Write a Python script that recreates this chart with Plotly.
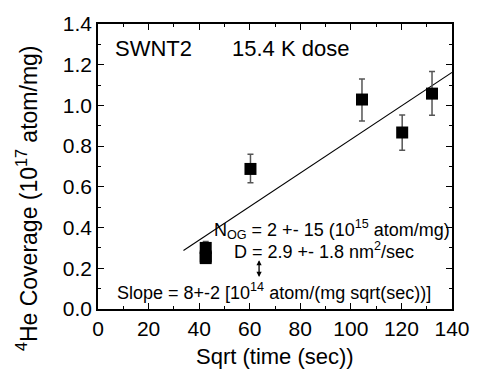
import plotly.graph_objects as go

# data
sqrt_time = [42.6, 42.6, 42.6, 60.3, 104.4, 120.3, 132.1]
coverage = [0.300, 0.258, 0.250, 0.688, 1.029, 0.867, 1.058]
err_plus = [0.032, 0.008, 0.008, 0.072, 0.101, 0.086, 0.109]
err_minus = [0.032, 0.008, 0.008, 0.068, 0.106, 0.087, 0.106]
fit_x = [33.8, 140.0]
fit_y = [0.287, 1.162]

FONT = "Liberation Sans, Arial, sans-serif"

fig = go.Figure()
fig.add_trace(go.Scatter(
    x=fit_x, y=fit_y, mode="lines",
    line=dict(color="black", width=1.1), showlegend=False, hoverinfo="skip"))
fig.add_trace(go.Scatter(
    x=sqrt_time, y=coverage, mode="markers",
    marker=dict(symbol="square", size=12, color="black"),
    error_y=dict(type="data", symmetric=False, array=err_plus, arrayminus=err_minus,
                 color="#555555", thickness=1.5, width=3),
    showlegend=False))

axis_common = dict(
    showline=True, linecolor="black", linewidth=1.5, mirror="allticks",
    ticks="inside", ticklen=6, tickwidth=1.3, tickcolor="black",
    showgrid=False, zeroline=False,
    tickfont=dict(family=FONT, size=21, color="black"),
)
fig.update_xaxes(range=[0, 140], dtick=20, tick0=0,
                 minor=dict(ticks="inside", ticklen=3, dtick=10, tickcolor="black", tickwidth=1.3, showgrid=False),
                 **axis_common)
fig.update_yaxes(range=[0, 1.4], dtick=0.2, tick0=0, tickformat=".1f",
                 minor=dict(ticks="inside", ticklen=3, dtick=0.1, tickcolor="black", tickwidth=1.3, showgrid=False),
                 **axis_common)

ann_font = dict(family=FONT, size=18, color="black")
fig.update_layout(
    width=482, height=377,
    margin=dict(l=98, r=22, t=18, b=68),
    plot_bgcolor="white", paper_bgcolor="white",
    annotations=[
        dict(text="Sqrt (time (sec))", xref="paper", yref="paper", x=0.5, y=-0.165,
             xanchor="center", yanchor="middle", showarrow=False,
             font=dict(family=FONT, size=22, color="black")),
        dict(text="<sup>4</sup>He Coverage (10<sup>17</sup> atom/mg)", xref="paper", yref="paper",
             x=-0.2, y=0.39, xanchor="center", yanchor="middle", textangle=-90, showarrow=False,
             font=dict(family=FONT, size=23, color="black")),
        dict(text="SWNT2", xref="paper", yref="paper", x=0.043, y=0.914,
             xanchor="left", yanchor="middle", showarrow=False,
             font=dict(family=FONT, size=22, color="black")),
        dict(text="15.4 K dose", xref="paper", yref="paper", x=0.372, y=0.914,
             xanchor="left", yanchor="middle", showarrow=False,
             font=dict(family=FONT, size=22, color="black")),
        dict(text="N<sub>OG</sub> = 2 +- 15 (10<sup>15</sup> atom/mg)", xref="paper", yref="paper",
             x=1.0, y=0.28, xanchor="right", yanchor="middle", showarrow=False, font=ann_font),
        dict(text="D = 2.9 +- 1.8 nm<sup>2</sup>/sec", xref="paper", yref="paper",
             x=0.638, y=0.205, xanchor="center", yanchor="middle", showarrow=False, font=ann_font),
        dict(text="Slope = 8+-2 [10<sup>14</sup> atom/(mg sqrt(sec))]", xref="paper", yref="paper",
             x=0.497, y=0.06, xanchor="center", yanchor="middle", showarrow=False, font=ann_font),
        dict(x=63.7, y=0.24, ax=63.7, ay=0.15, xref="x", yref="y", axref="x", ayref="y",
             text="", showarrow=True, arrowhead=2, startarrowhead=2, arrowside="end+start",
             arrowsize=0.8, startarrowsize=0.8, arrowwidth=1.3, arrowcolor="black"),
    ],
)

fig.write_html("out.html")
